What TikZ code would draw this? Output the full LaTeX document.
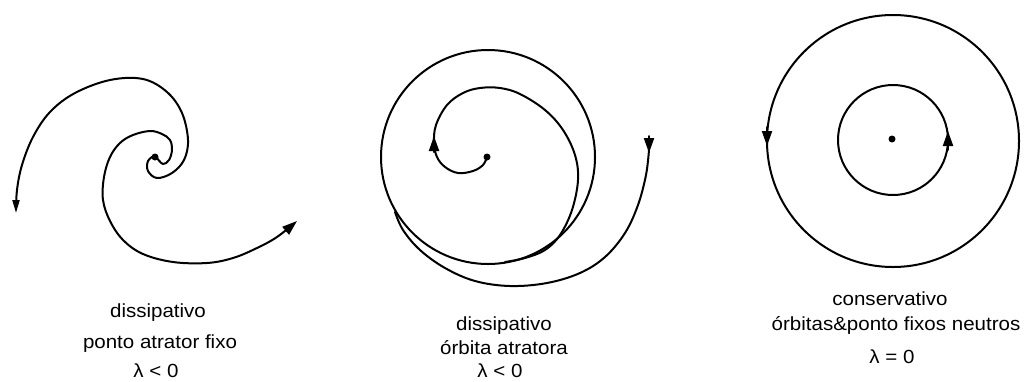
\documentclass[tikz,border=0pt]{standalone}
\usepackage{fontspec}
\setmainfont{Liberation Sans}
\newfontfamily\lbl[FakeStretch=1.08]{Liberation Sans}
\usetikzlibrary{arrows.meta}
\begin{document}
\begin{tikzpicture}[x=1pt,y=-1pt,
  traj/.style={line width=2pt, line join=round, line cap=round},
  tipa/.style={-{Triangle[length=15pt,width=10pt]}},
  tipb/.style={-{Triangle[length=13pt,width=7pt]}},
  lab/.style={font=\lbl\fontsize{19}{19}\selectfont, anchor=base, inner sep=0pt},
  fp/.style={circle, fill=black, inner sep=0pt, minimum size=7pt}]
\useasboundingbox (0,0) rectangle (1030,381);

% ---------- panel 1: fixed attracting point ----------
\node[fp] (c1) at (155,157) {};
\draw[traj,tipb] plot[smooth, tension=0.6] coordinates {(155,155) (148,161) (148,171) (157,178) (172,173) (184,160) (188,140) (182,113) (167,92) (143,79) (110,80) (75,93) (50,112) (33,137) (22,165) (17,190) (16,213)};
\draw[traj,tipa] plot[smooth, tension=0.6] coordinates {(157,158) (163,164) (169,160) (172,150) (170,140) (162,134) (150,131) (133,135) (120,143) (110,157) (104,177) (103,200) (110,221) (123,240) (143,254) (173,262) (207,263) (233,258) (257,248) (277,237) (297,221)};

\node[lab] (t1a) at (158,317) {dissipativo};
\node[lab] (t1b) at (160,348) {ponto atrator fixo};
\node[lab] (t1c) at (156,377) {λ < 0};

% ---------- panel 2: attracting orbit ----------
\draw[traj] (488,157) circle[radius=107];
\node[fp] (c2) at (487,157) {};
\draw[traj] plot[smooth, tension=0.6] coordinates {(487,157) (483,165) (473,171) (458,173) (445,167) (437,157) (434,143) (436,125) (447,105) (463,93) (480,88) (500,88) (520,94) (545,110) (563,130) (575,155) (578,180) (572,210) (560,235) (545,250) (525,258) (505,262)};
\draw[traj,tipa] (434,152) -- (434,136);
\draw[traj] plot[smooth, tension=0.6] coordinates {(649,150) (646,175) (638,205) (625,233) (605,257) (580,273) (547,283) (510,286) (475,281) (445,268) (420,250) (403,230) (395,212)};
\draw[traj,tipa] (649,136) -- (649,153);

\node[lab] (t2a) at (504,330) {dissipativo};
\node[lab] (t2b) at (504,354) {órbita atratora};
\node[lab] (t2c) at (500,377) {λ < 0};

% ---------- panel 3: conservative ----------
\draw[traj] (893,141) circle[radius=126];
\draw[traj] (893,140) circle[radius=55];
\node[fp] (c3) at (892,139) {};
\draw[traj,tipa] (948,150) -- (948,131);
\draw[traj,tipa] (767,127) -- (767,146);

\node[lab] (t3a) at (890,305) {conservativo};
\node[lab] (t3b) at (896,330) {órbitas\&ponto fixos neutros};
\node[lab] (t3c) at (892,363) {λ = 0};
\end{tikzpicture}
\end{document}
